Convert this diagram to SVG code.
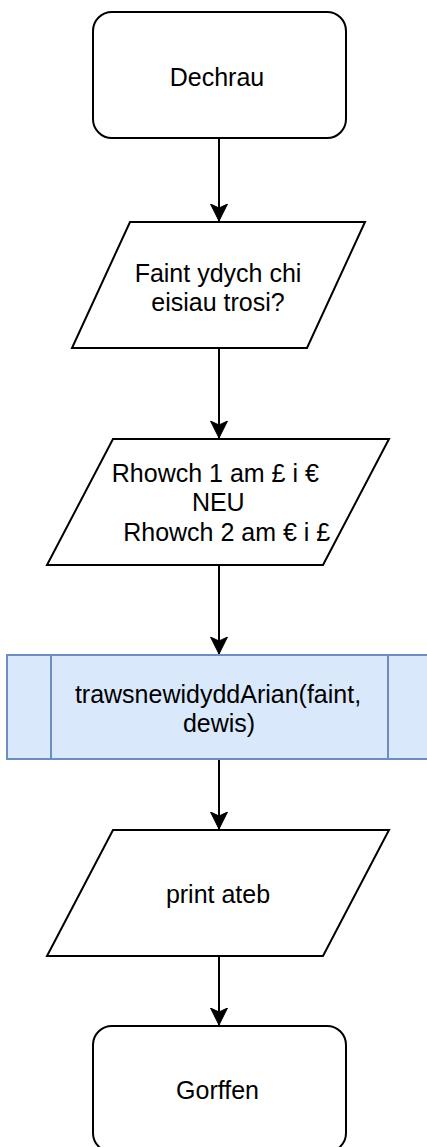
<svg xmlns="http://www.w3.org/2000/svg" width="427" height="1147" viewBox="0 0 427 1147">
  <style>
    .shape { fill: #ffffff; stroke: #000000; stroke-width: 2; }
    .proc { fill: #dae8fc; stroke: #6c8ebf; stroke-width: 2; }
    .lbl { font-family: "Liberation Sans", Arial, Helvetica, sans-serif; font-size: 25px; fill: #000000; text-anchor: middle; }
    .conn { fill: none; stroke: #000000; stroke-width: 2; }
  </style>
  <defs>
    <marker id="arrow" markerUnits="userSpaceOnUse" markerWidth="20" markerHeight="20" viewBox="0 0 20 20" refX="17" refY="10" orient="auto">
      <path d="M17,10 L0,1.5 L4,10 L0,18.5 Z" fill="#000000" stroke="#000000" stroke-width="1"/>
    </marker>
  </defs>
  <rect width="427" height="1147" fill="#ffffff"/>

  <g id="connectors">
    <line class="conn" x1="219" y1="138" x2="219" y2="221" marker-end="url(#arrow)"/>
    <line class="conn" x1="219" y1="348" x2="219" y2="438" marker-end="url(#arrow)"/>
    <line class="conn" x1="219" y1="565" x2="219" y2="654" marker-end="url(#arrow)"/>
    <line class="conn" x1="219" y1="759" x2="219" y2="829" marker-end="url(#arrow)"/>
    <line class="conn" x1="219" y1="956" x2="219" y2="1025" marker-end="url(#arrow)"/>
  </g>

  <g id="start">
    <rect class="shape" x="93" y="12" width="253" height="126" rx="19" ry="19"/>
    <text class="lbl" x="217" y="86">Dechrau</text>
  </g>

  <g id="input-amount">
    <polygon class="shape" points="130,222 365,222 307,348 72,348"/>
    <text class="lbl" x="218" y="281.5">Faint ydych chi</text>
    <text class="lbl" x="218" y="311">eisiau trosi?</text>
  </g>

  <g id="input-choice">
    <polygon class="shape" points="113,439 389,439 323,565 47,565"/>
    <text class="lbl" x="215.3" y="481.5">Rhowch 1 am £ i €</text>
    <text class="lbl" x="218.3" y="511">NEU</text>
    <text class="lbl" x="226.7" y="540.5">Rhowch 2 am € i £</text>
  </g>

  <g id="process">
    <rect class="proc" x="7" y="655" width="425" height="104"/>
    <line class="proc" x1="51" y1="655" x2="51" y2="759"/>
    <line class="proc" x1="388" y1="655" x2="388" y2="759"/>
    <text class="lbl" x="218" y="702.5">trawsnewidyddArian(faint,</text>
    <text class="lbl" x="219" y="732">dewis)</text>
  </g>

  <g id="output">
    <polygon class="shape" points="113,830 389,830 323,956 47,956"/>
    <text class="lbl" x="218" y="903">print ateb</text>
  </g>

  <g id="end">
    <rect class="shape" x="93" y="1026" width="253" height="126" rx="19" ry="19"/>
    <text class="lbl" x="217.5" y="1099">Gorffen</text>
  </g>
</svg>
